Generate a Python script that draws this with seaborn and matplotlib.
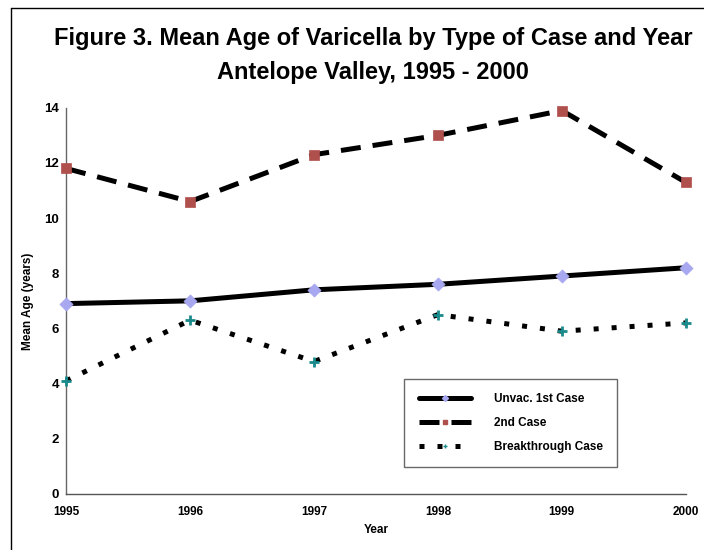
import matplotlib
matplotlib.use('Agg')
import matplotlib.pyplot as plt
from matplotlib.lines import Line2D
import seaborn as sns
import pandas as pd

years = [1995, 1996, 1997, 1998, 1999, 2000]
unvac_first = [6.9, 7.0, 7.4, 7.6, 7.9, 8.2]
second_case = [11.8, 10.6, 12.3, 13.0, 13.9, 11.3]
breakthrough = [4.1, 6.3, 4.8, 6.5, 5.9, 6.2]
series_names = ['Unvac. 1st Case', '2nd Case', 'Breakthrough Case']

df = pd.DataFrame({
    'Year': years * 3,
    'Age': unvac_first + second_case + breakthrough,
    'Case': [s for s in series_names for _ in years],
})

sns.set_style('white')
plt.rcParams['font.family'] = ['Liberation Sans', 'DejaVu Sans']
plt.rcParams['font.weight'] = 'bold'
plt.rcParams['text.color'] = 'black'
plt.rcParams['axes.labelcolor'] = 'black'
plt.rcParams['xtick.color'] = 'black'
plt.rcParams['ytick.color'] = 'black'

fig = plt.figure(figsize=(7.04, 5.5), dpi=100)
ax = fig.add_axes([0.094, 0.102, 0.880, 0.702])

styles = {
    'Unvac. 1st Case': dict(dashes=None, marker='D', mc='#a8a8f0', ms=45, lw=0.5),
    '2nd Case': dict(dashes=(4, 2.4), marker='s', mc='#b0504c', ms=55, lw=0.5),
    'Breakthrough Case': dict(dashes=(1, 2.6), marker='+', mc='#1a8a8a', ms=60, lw=2),
}

handles = []
for name in series_names:
    st = styles[name]
    sub = df[df['Case'] == name]
    sns.lineplot(data=sub, x='Year', y='Age', ax=ax, color='black', linewidth=3.6,
                 legend=False)
    line = ax.lines[-1]
    line.set_clip_on(False)
    if st['dashes'] is not None:
        line.set_dashes(st['dashes'])
    sns.scatterplot(data=sub, x='Year', y='Age', ax=ax, color=st['mc'],
                    marker=st['marker'], s=st['ms'], edgecolor=st['mc'],
                    linewidth=st['lw'], legend=False, zorder=5, clip_on=False)
    h = Line2D([0], [0], color='black', linewidth=3.6, marker=st['marker'],
               markersize=3, markerfacecolor=st['mc'], markeredgecolor=st['mc'])
    if st['dashes'] is not None:
        h.set_dashes(st['dashes'])
    handles.append(h)

ax.set_xlim(1995, 2000)
ax.set_ylim(0, 14)
ax.set_xticks(years)
ax.set_xticklabels([str(y) for y in years], fontsize=8.5, fontweight='bold')
ax.set_yticks(range(0, 15, 2))
ax.set_yticklabels([str(v) for v in range(0, 15, 2)], fontsize=9.5, fontweight='bold')
ax.tick_params(axis='x', length=0, pad=9)
ax.tick_params(axis='y', length=0, pad=5)

sns.despine(ax=ax)
ax.spines['left'].set_color('#666666')
ax.spines['bottom'].set_color('#555555')
ax.spines['left'].set_linewidth(1)
ax.spines['bottom'].set_linewidth(1)

ax.set_xlabel('Year', fontsize=8.5, fontweight='bold', labelpad=4)
ax.set_ylabel('Mean Age (years)', fontsize=8.5, fontweight='bold')
ax.yaxis.set_label_coords(-0.052, 0.5)

leg = ax.legend(handles, series_names, loc='lower left', bbox_to_anchor=(0.546, 0.07),
                frameon=True, fancybox=False, edgecolor='#444444', fontsize=8.5,
                handlelength=4.4, borderpad=1.2, labelspacing=1.0, handletextpad=2.0,
                borderaxespad=0)
leg.get_frame().set_linewidth(1)
for t in leg.get_texts():
    t.set_fontweight('bold')

fig.text(0.53, 0.93, 'Figure 3. Mean Age of Varicella by Type of Case and Year',
         ha='center', va='center', fontsize=17, fontweight='bold')
fig.text(0.53, 0.868, 'Antelope Valley, 1995 - 2000',
         ha='center', va='center', fontsize=17, fontweight='bold')

# figure border (top and left)
fig.add_artist(Line2D([0.016, 0.016], [0, 0.985], color='black', linewidth=1,
                      transform=fig.transFigure))
fig.add_artist(Line2D([0.016, 1.0], [0.985, 0.985], color='black', linewidth=1,
                      transform=fig.transFigure))

fig.savefig('out.png', dpi=100)
